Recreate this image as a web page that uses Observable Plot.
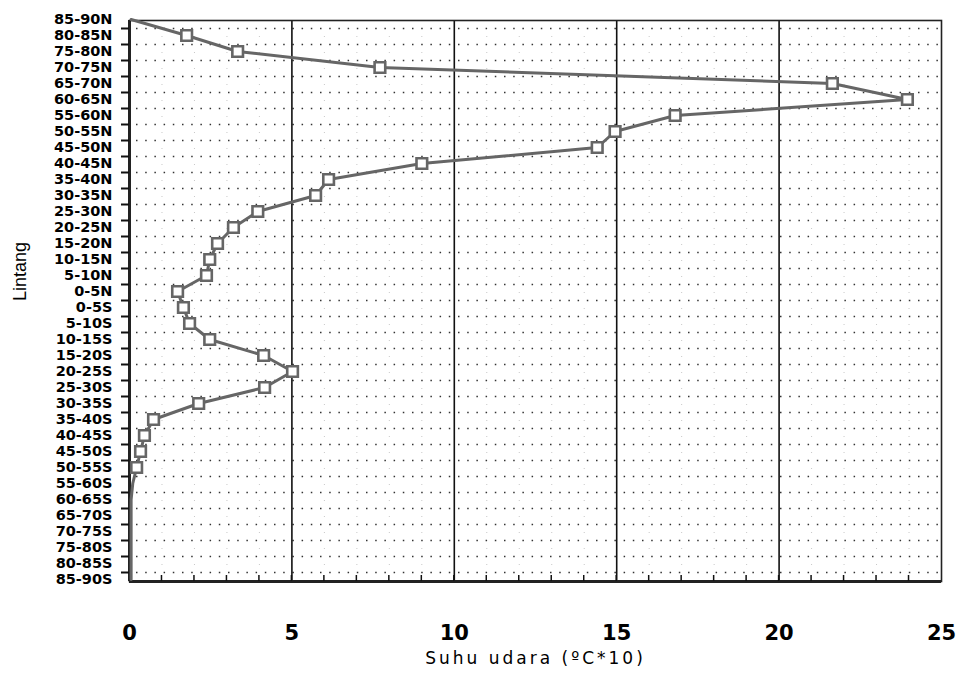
<!DOCTYPE html>
<html>
<head>
<meta charset="utf-8">
<script src="https://cdn.jsdelivr.net/npm/d3@7"></script>
<script src="https://cdn.jsdelivr.net/npm/@observablehq/plot@0.6"></script>
<style>
  html, body { margin: 0; padding: 0; background: #fff; }
  #chart svg { display: block; }
</style>
</head>
<body>
<div id="chart"></div>
<script>
// Latitude bands (top to bottom)
const latitudes = [
  "85-90N","80-85N","75-80N","70-75N","65-70N","60-65N","55-60N","50-55N","45-50N",
  "40-45N","35-40N","30-35N","25-30N","20-25N","15-20N","10-15N","5-10N","0-5N",
  "0-5S","5-10S","10-15S","15-20S","20-25S","25-30S","30-35S","35-40S","40-45S",
  "45-50S","50-55S","55-60S","60-65S","65-70S","70-75S","75-80S","80-85S","85-90S"
];
// Air temperature values (°C*10)
const temperature = [
  0.05, 1.76, 3.33, 7.71, 21.64, 23.95, 16.8, 14.95, 14.4,
  9.0, 6.13, 5.73, 3.95, 3.2, 2.71, 2.47, 2.37, 1.48,
  1.66, 1.85, 2.47, 4.13, 5.02, 4.16, 2.13, 0.74, 0.46,
  0.34, 0.22, 0.1, 0.05, 0.05, 0.05, 0.05, 0.05, 0.05
];
const xTickLabels = [0, 5, 10, 15, 20, 25];
const majorGrid = [5, 10, 15, 20];
const minorTicks = d3.range(1, 25);
const xTitle = "Suhu udara (ºC*10)";
const yTitle = "Lintang";

const data = latitudes.map((lat, i) => ({lat, temp: temperature[i]}));

const W = 967, H = 673;
const mL = 129, mR = 26, mT = 20, mB = 92;

const bottomTicks = (index, scales, values, dims) => {
  const g = d3.create("svg:g");
  const yb = dims.height - dims.marginBottom;
  for (const t of minorTicks) {
    const x = scales.x(t);
    g.append("line").attr("x1", x).attr("x2", x).attr("y1", yb - 6).attr("y2", yb)
      .attr("stroke", "#111").attr("stroke-width", 1.5);
  }
  return g.node();
};

const chart = Plot.plot({
  width: W,
  height: H,
  marginLeft: mL,
  marginRight: mR,
  marginTop: mT,
  marginBottom: mB,
  style: {background: "#fff", overflow: "visible"},
  x: {domain: [0, 25], axis: null},
  y: {type: "point", domain: latitudes, range: [19, 579], padding: 0, axis: null},
  marks: [
    // faint minor vertical dotted grid
    Plot.ruleX(minorTicks.filter(d => d % 5 !== 0), {stroke: "#c8c8c8", strokeWidth: 1, strokeDasharray: "1,15"}),
    // dotted horizontal rows
    Plot.ruleY(latitudes.slice(1), {dy: -7, stroke: "#333", strokeWidth: 1.5, strokeDasharray: "1.5,7.7", strokeDashoffset: -7}),
    // major vertical lines
    Plot.ruleX(majorGrid, {stroke: "#111", strokeWidth: 1.6}),
    // frame
    Plot.frame({stroke: "#222", strokeWidth: 1.6}),
    Plot.ruleX([0], {stroke: "#222", strokeWidth: 3}),
    Plot.ruleY([latitudes[latitudes.length - 1]], {dy: 2, stroke: "#222", strokeWidth: 3}),
    // y ticks (outside)
    Plot.axisY({ticks: latitudes.slice(1), tickSize: 8, tickFormat: () => "", label: null, dy: -7, stroke: "#111", strokeWidth: 2}),
    // bottom inner ticks
    bottomTicks,
    // y labels
    Plot.text(latitudes, {y: d => d, frameAnchor: "left", dx: -17, textAnchor: "end", fontFamily: "DejaVu Sans", fontWeight: "bold", fontSize: 14.5, fill: "#000"}),
    // x tick labels
    Plot.text(xTickLabels, {x: d => d, frameAnchor: "bottom", dy: 58, fontFamily: "DejaVu Sans", fontWeight: "bold", fontSize: 21, fill: "#000"}),
    // titles
    Plot.text([xTitle], {frameAnchor: "bottom", dy: 82, fontFamily: "DejaVu Sans", fontSize: 17, fill: "#000"}),
    Plot.text([yTitle], {frameAnchor: "left", dx: -109, dy: 0, rotate: -90, fontFamily: "Liberation Sans", fontSize: 18, fill: "#000"}),
    // data line and markers
    Plot.line(data, {x: "temp", y: "lat", stroke: "#666", strokeWidth: 3, curve: "linear"}),
    Plot.dot(data.filter(d => d.temp > 0.15), {x: "temp", y: "lat", symbol: "square", r: 6, stroke: "#666", strokeWidth: 2.6, fill: "#fff"})
  ]
});

d3.select(chart).selectAll("text").filter(function() { return this.textContent === xTitle; })
  .style("letter-spacing", "3px");

document.getElementById("chart").appendChild(chart);
</script>
</body>
</html>
